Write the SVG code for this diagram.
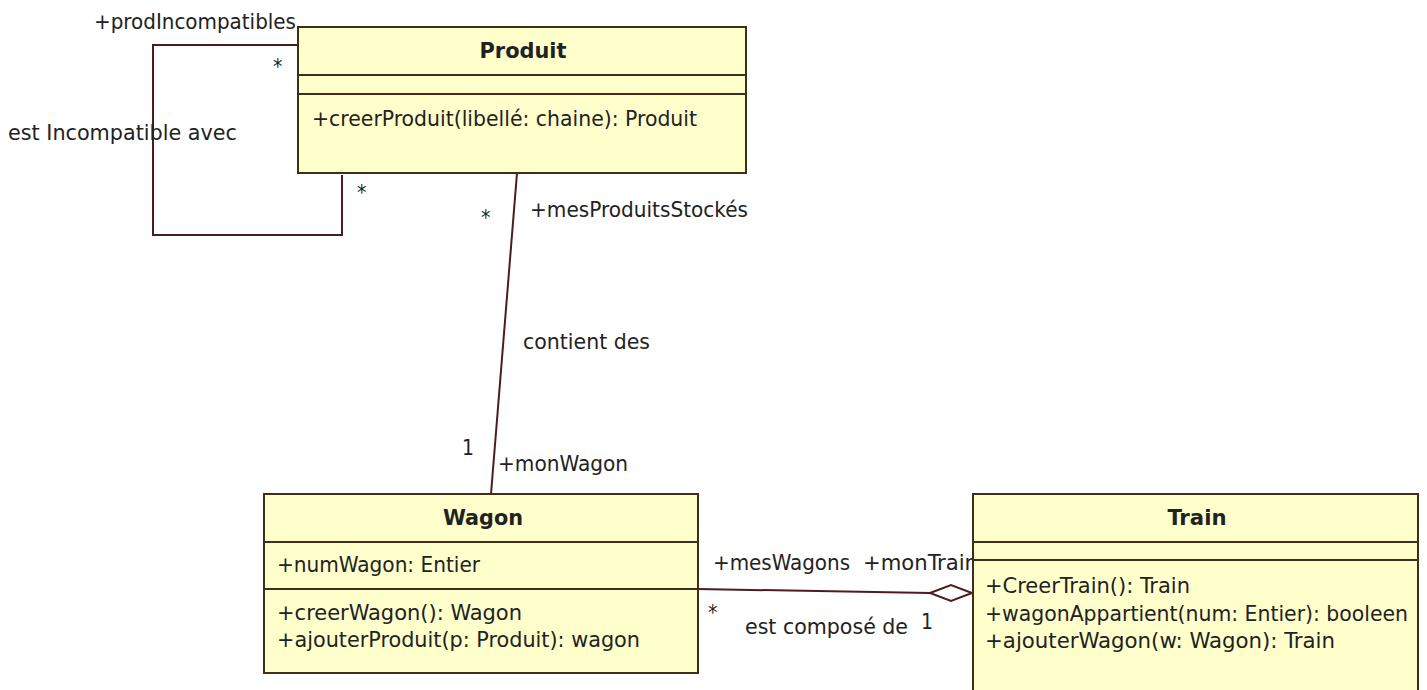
<svg xmlns="http://www.w3.org/2000/svg" width="1427" height="690" viewBox="0 0 1427 690">
  <style>
    text { font-family: "DejaVu Sans Condensed", "Liberation Sans", sans-serif; font-size: 21px; fill: #222; }
    .title { font-weight: bold; text-anchor: middle; }
    .box { fill: #ffffcc; stroke: #3e2e1a; stroke-width: 2; }
    .div { stroke: #3e2e1a; stroke-width: 2; }
    .link { fill: none; stroke: #4d1c1c; stroke-width: 2; }
  </style>
  <rect x="0" y="0" width="1427" height="690" fill="#ffffff"/>

  <!-- associations and their role / multiplicity labels -->
  <g id="connectors">
    <!-- Produit self-association -->
    <polyline class="link" points="298,45 153,45 153,235 342,235 342,175"/>
    <text x="94" y="29" textLength="202" lengthAdjust="spacingAndGlyphs">+prodIncompatibles</text>
    <text x="273" y="74">*</text>
    <text x="357" y="200">*</text>
    <text x="8" y="140" textLength="229" lengthAdjust="spacingAndGlyphs">est Incompatible avec</text>

    <!-- Produit - Wagon -->
    <line class="link" x1="517" y1="173" x2="491" y2="494"/>
    <text x="481" y="225">*</text>
    <text x="530" y="217" textLength="218" lengthAdjust="spacingAndGlyphs">+mesProduitsStockés</text>
    <text x="523" y="349" textLength="127" lengthAdjust="spacingAndGlyphs">contient des</text>
    <text x="462" y="455">1</text>
    <text x="498" y="471" textLength="130" lengthAdjust="spacingAndGlyphs">+monWagon</text>

    <!-- Wagon - Train (aggregation) -->
    <line class="link" x1="698" y1="589" x2="930" y2="593"/>
    <polygon points="930,593 951,585 972,593 951,601" fill="#ffffff" stroke="#4d1c1c" stroke-width="2"/>
    <text x="713" y="570" textLength="137" lengthAdjust="spacingAndGlyphs">+mesWagons</text>
    <text x="863" y="570" textLength="115" lengthAdjust="spacingAndGlyphs">+monTrain</text>
    <text x="708" y="620">*</text>
    <text x="745" y="634" textLength="163" lengthAdjust="spacingAndGlyphs">est composé de</text>
    <text x="921" y="629">1</text>
  </g>

  <g id="produit">
    <rect class="box" x="298" y="27" width="448" height="146"/>
    <line class="div" x1="298" y1="75" x2="746" y2="75"/>
    <line class="div" x1="298" y1="94" x2="746" y2="94"/>
    <text class="title" x="523" y="58" textLength="87" lengthAdjust="spacingAndGlyphs">Produit</text>
    <text x="312" y="126" textLength="385" lengthAdjust="spacingAndGlyphs">+creerProduit(libellé: chaine): Produit</text>
  </g>

  <g id="wagon">
    <rect class="box" x="264" y="494" width="434" height="179"/>
    <line class="div" x1="264" y1="542" x2="698" y2="542"/>
    <line class="div" x1="264" y1="589" x2="698" y2="589"/>
    <text class="title" x="483" y="525" textLength="80" lengthAdjust="spacingAndGlyphs">Wagon</text>
    <text x="277" y="572" textLength="203" lengthAdjust="spacingAndGlyphs">+numWagon: Entier</text>
    <text x="277" y="620" textLength="245" lengthAdjust="spacingAndGlyphs">+creerWagon(): Wagon</text>
    <text x="277" y="647" textLength="363" lengthAdjust="spacingAndGlyphs">+ajouterProduit(p: Produit): wagon</text>
  </g>

  <g id="train">
    <rect class="box" x="973" y="494" width="445" height="210"/>
    <line class="div" x1="973" y1="542" x2="1418" y2="542"/>
    <line class="div" x1="973" y1="560" x2="1418" y2="560"/>
    <text class="title" x="1197" y="525" textLength="59" lengthAdjust="spacingAndGlyphs">Train</text>
    <text x="985" y="593" textLength="205" lengthAdjust="spacingAndGlyphs">+CreerTrain(): Train</text>
    <text x="985" y="621" textLength="423" lengthAdjust="spacingAndGlyphs">+wagonAppartient(num: Entier): booleen</text>
    <text x="985" y="648" textLength="350" lengthAdjust="spacingAndGlyphs">+ajouterWagon(w: Wagon): Train</text>
  </g>
</svg>
